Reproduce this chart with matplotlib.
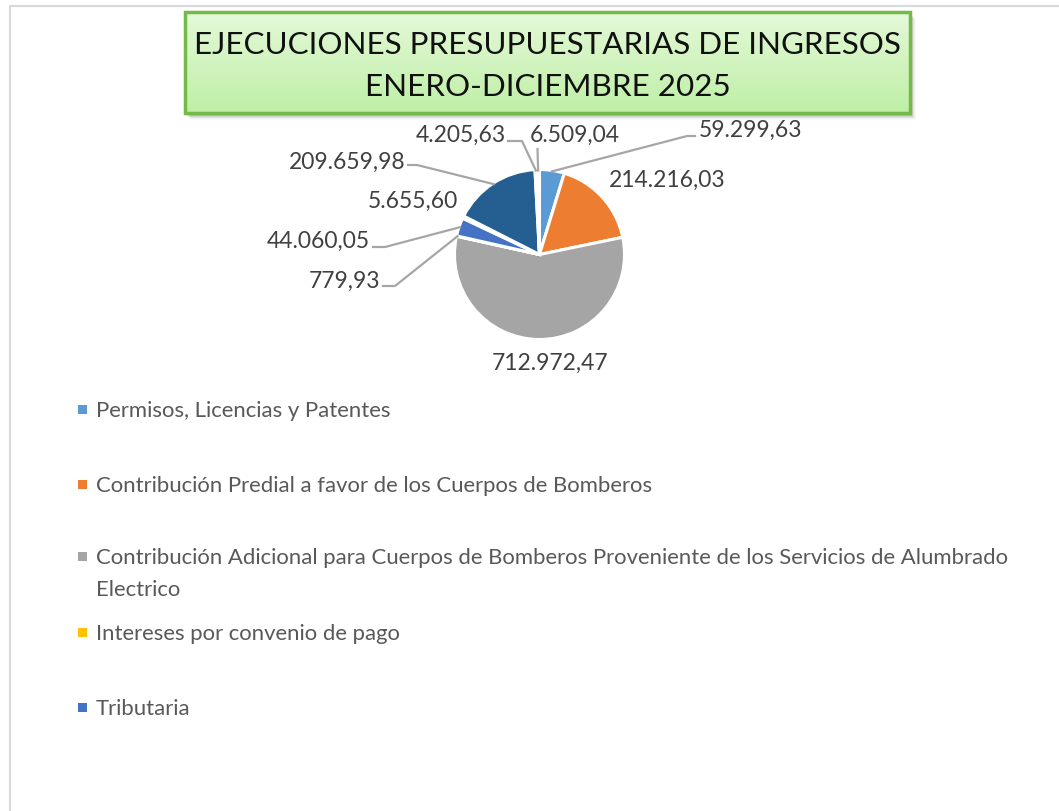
import matplotlib
matplotlib.use('Agg')
import matplotlib.pyplot as plt
import numpy as np
from matplotlib.patches import Rectangle
from matplotlib.lines import Line2D
import matplotlib.colors as mcolors

# ---------------- data ----------------
values = [59299.63, 214216.03, 712972.47, 779.93, 44060.05, 5655.60, 209659.98, 4205.63, 6509.04]
colors = ['#5B9BD5', '#ED7D31', '#A5A5A5', '#FFC000', '#4472C4', '#70AD47', '#255E91', '#9E480E', '#636363']
legend_labels = [
    'Permisos, Licencias y Patentes',
    'Contribución Predial a favor de los Cuerpos de Bomberos',
    'Contribución Adicional para Cuerpos de Bomberos Proveniente de los Servicios de Alumbrado\nElectrico',
    'Intereses por convenio de pago',
    'Tributaria',
]
title_lines = ['EJECUCIONES PRESUPUESTARIAS DE INGRESOS', 'ENERO-DICIEMBRE 2025']


def fmt_es(v):
    s = f"{v:,.2f}"
    return s.replace(',', '#').replace('.', ',').replace('#', '.')


W, H = 1059, 812
FONT = ['Lato', 'DejaVu Sans']
plt.rcParams['font.family'] = FONT

fig = plt.figure(figsize=(W / 100, H / 100), dpi=100)
ax = fig.add_axes([0, 0, 1, 1])


def Y(py):
    return H - py


# chart border (top and left, light gray)
ax.add_line(Line2D([10, 10, W], [Y(H), Y(7), Y(7)], color='#d9d9d9', lw=1.5))

# ---------------- title box ----------------
bx0, bx1, by0, by1 = 185, 910, 13, 114
for i, a in enumerate([0.10, 0.08, 0.06, 0.04, 0.02]):
    ax.add_patch(Rectangle((bx0 + 2 + i, Y(by1 + 3 + i)), bx1 - bx0, by1 - by0,
                           facecolor='black', edgecolor='none', alpha=a, zorder=1))
grad = np.linspace(0, 1, 100).reshape(-1, 1)
cmap = mcolors.LinearSegmentedColormap.from_list('g', ['#e4f9d9', '#bfefa6'])
ax.imshow(grad, cmap=cmap, extent=(bx0, bx1, Y(by1), Y(by0)), aspect='auto', zorder=2,
          origin='upper')
ax.add_patch(Rectangle((bx0, Y(by1)), bx1 - bx0, by1 - by0, facecolor='none',
                       edgecolor='#74ba48', lw=2.5, zorder=3))
ax.text((bx0 + bx1) / 2, Y(45), title_lines[0], ha='center', va='center',
        fontsize=22.6, color='#111111', zorder=4)
ax.text((bx0 + bx1) / 2, Y(87), title_lines[1], ha='center', va='center',
        fontsize=22.6, color='#111111', zorder=4)

# ---------------- pie ----------------
cx, cy, R = 539.5, 255.5, 85
ax.pie(values, colors=colors, startangle=90, counterclock=False,
       center=(cx, Y(cy)), radius=R,
       wedgeprops=dict(edgecolor='white', linewidth=2.2), frame=True)

total = float(np.sum(values))
cum = np.cumsum([0] + values[:-1])
mid = 360.0 * (cum + np.array(values) / 2) / total  # clockwise from top

label_pos = [
    (699, 130, 'left'),
    (609, 180, 'left'),
    (550, 363, 'center'),
    (380, 281, 'right'),
    (370, 241, 'right'),
    (458, 201, 'right'),
    (406, 162, 'right'),
    (506, 135, 'right'),
    (575, 135, 'center'),
]
leaders = {
    0: [(695, 137), (687, 137)],
    3: [(383, 287), (395, 287)],
    4: [(373, 248), (385, 248)],
    6: [(408, 166), (417, 166)],
    7: [(508, 142), (522, 142)],
    8: [(537.5, 150)],
}
for i, v in enumerate(values):
    lx, ly, ha = label_pos[i]
    ax.text(lx, Y(ly), fmt_es(v), ha=ha, va='center', fontsize=16.5, color='#404040', zorder=5)
    if i in leaders:
        th = np.deg2rad(mid[i])
        ex = cx + (R - 1) * np.sin(th)
        ey = cy - (R - 1) * np.cos(th)
        pts = leaders[i] + [(ex, ey)]
        ax.add_line(Line2D([p[0] for p in pts], [Y(p[1]) for p in pts],
                           color='#a6a6a6', lw=1.6, zorder=4))

# ---------------- legend ----------------
leg_y = [410, 485, 557, 633, 708]
line_gap = 32
for i, lab in enumerate(legend_labels):
    ax.add_patch(Rectangle((78, Y(leg_y[i] + 4.5)), 9, 9, facecolor=colors[i],
                           edgecolor='none', zorder=5))
    for k, line in enumerate(lab.split('\n')):
        ax.text(96, Y(leg_y[i] + k * line_gap + 1), line, ha='left', va='center',
                fontsize=15.9, color='#595959', zorder=5)

ax.set_xlim(0, W)
ax.set_ylim(0, H)
ax.set_aspect('auto')
ax.axis('off')
fig.savefig('out.png', dpi=100, facecolor='white')
